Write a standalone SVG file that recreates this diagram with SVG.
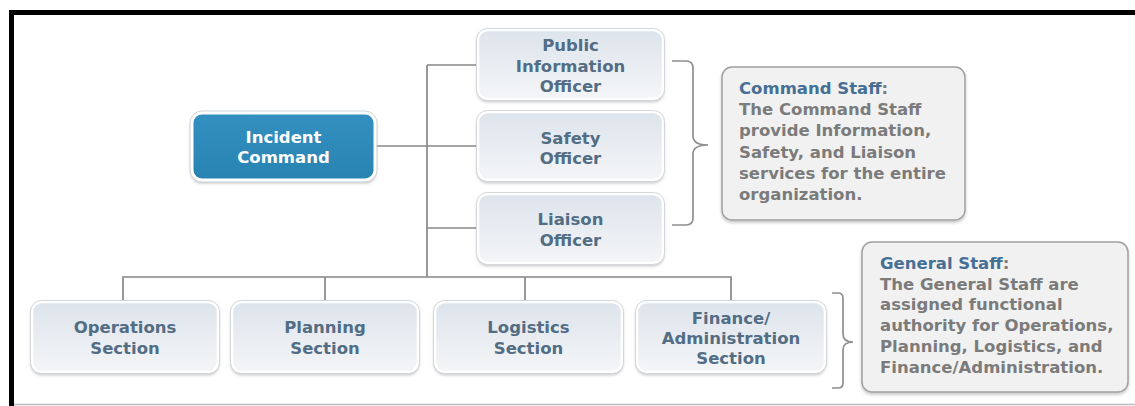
<svg xmlns="http://www.w3.org/2000/svg" width="1135" height="406" viewBox="0 0 1135 406">
<defs>
<linearGradient id="gNode" x1="0" y1="0" x2="0" y2="1">
<stop offset="0" stop-color="#dde4ec"/>
<stop offset="1" stop-color="#f4f5f7"/>
</linearGradient>
<linearGradient id="gIC" x1="0" y1="0" x2="0" y2="1">
<stop offset="0" stop-color="#3290c0"/>
<stop offset="1" stop-color="#2a83b2"/>
</linearGradient>
<filter id="sh" x="-10%" y="-10%" width="120%" height="130%">
<feDropShadow dx="0" dy="2" stdDeviation="1.5" flood-color="#000" flood-opacity="0.22"/>
</filter>
<style>
.node{fill:url(#gNode);stroke:#ffffff;stroke-width:2.5;filter:url(#sh)}
.nodeo{fill:none;stroke:#d3d6da;stroke-width:1}
.ic{fill:url(#gIC);stroke:#ffffff;stroke-width:3;filter:url(#sh)}
.ico{fill:none;stroke:#cfd6dc;stroke-width:1}
.note{fill:#f1f1f1;stroke:#a0a0a0;stroke-width:1.5;filter:url(#sh)}
.lbl{font-family:"DejaVu Sans",Verdana,sans-serif;font-weight:bold;font-size:16.5px;fill:#526d84;text-anchor:middle}
.icl{font-family:"DejaVu Sans",Verdana,sans-serif;font-weight:bold;font-size:16.5px;fill:#ffffff;text-anchor:middle}
.nt{font-family:"DejaVu Sans",Verdana,sans-serif;font-weight:bold;font-size:16.5px;fill:#7b7b7b}
.nh{fill:#456f94}
.conn{fill:none;stroke:#878787;stroke-width:1.7}
.brace{fill:none;stroke:#8f8f8f;stroke-width:1.7}
</style>
</defs>
<rect width="1135" height="406" fill="#ffffff"/>
<!-- frame -->
<line x1="9" y1="12.5" x2="1135" y2="12.5" stroke="#000" stroke-width="5"/>
<line x1="11.5" y1="10" x2="11.5" y2="406" stroke="#000" stroke-width="5"/>
<line x1="14" y1="404.5" x2="1135" y2="404.5" stroke="#bdbdbd" stroke-width="1.5"/>

<g id="connectors">
<path class="conn" d="M427 65 V277"/>
<path class="conn" d="M427 65 H478"/>
<path class="conn" d="M375 146 H478"/>
<path class="conn" d="M427 228 H478"/>
<path class="conn" d="M123 300 V277 H731 V300"/>
<path class="conn" d="M325 277 V300"/>
<path class="conn" d="M525 277 V300"/>
<path class="brace" d="M672 61 H686 Q693 61 693 68 V136 Q693 145 708 145 Q693 145 693 154 V218 Q693 225 686 225 H672"/>
<path class="brace" d="M832 293 H838 Q843 293 843 298 V334 Q843 342 853 342 Q843 342 843 350 V383 Q843 388 838 388 H832"/>
</g>

<g id="incident-command">
<rect class="ic" x="192" y="113" width="183" height="67" rx="10"/>
<rect class="ico" x="190" y="111" width="187" height="71" rx="12"/>
<text class="icl" x="283.5" y="143">Incident</text>
<text class="icl" x="283.5" y="163">Command</text>
</g>

<g id="public-information-officer">
<rect class="node" x="478" y="30" width="185" height="69" rx="10"/>
<rect class="nodeo" x="476.5" y="28.5" width="188" height="72" rx="11"/>
<text class="lbl" x="570.5" y="51">Public</text>
<text class="lbl" x="570.5" y="72">Information</text>
<text class="lbl" x="570.5" y="92">Officer</text>
</g>

<g id="safety-officer">
<rect class="node" x="478" y="112" width="185" height="68" rx="10"/>
<rect class="nodeo" x="476.5" y="110.5" width="188" height="71" rx="11"/>
<text class="lbl" x="570.5" y="144">Safety</text>
<text class="lbl" x="570.5" y="164">Officer</text>
</g>

<g id="liaison-officer">
<rect class="node" x="478" y="194" width="185" height="69" rx="10"/>
<rect class="nodeo" x="476.5" y="192.5" width="188" height="72" rx="11"/>
<text class="lbl" x="570.5" y="225">Liaison</text>
<text class="lbl" x="570.5" y="246">Officer</text>
</g>

<g id="operations-section">
<rect class="node" x="32" y="302" width="186" height="70" rx="10"/>
<rect class="nodeo" x="30.5" y="300.5" width="189" height="73" rx="11"/>
<text class="lbl" x="125" y="333">Operations</text>
<text class="lbl" x="125" y="354">Section</text>
</g>

<g id="planning-section">
<rect class="node" x="232" y="302" width="186" height="70" rx="10"/>
<rect class="nodeo" x="230.5" y="300.5" width="189" height="73" rx="11"/>
<text class="lbl" x="325" y="333">Planning</text>
<text class="lbl" x="325" y="354">Section</text>
</g>

<g id="logistics-section">
<rect class="node" x="435" y="302" width="187" height="70" rx="10"/>
<rect class="nodeo" x="433.5" y="300.5" width="190" height="73" rx="11"/>
<text class="lbl" x="528.5" y="333">Logistics</text>
<text class="lbl" x="528.5" y="354">Section</text>
</g>

<g id="finance-administration-section">
<rect class="node" x="637" y="302" width="188" height="70" rx="10"/>
<rect class="nodeo" x="635.5" y="300.5" width="191" height="73" rx="11"/>
<text class="lbl" x="731" y="324">Finance/</text>
<text class="lbl" x="731" y="344">Administration</text>
<text class="lbl" x="731" y="364">Section</text>
</g>

<g id="command-staff-note">
<rect class="note" x="722" y="67" width="243" height="153" rx="10"/>
<text class="nt" x="739" y="94"><tspan class="nh">Command Staff</tspan>:</text>
<text class="nt" x="739" y="115">The Command Staff</text>
<text class="nt" x="739" y="136">provide Information,</text>
<text class="nt" x="739" y="158">Safety, and Liaison</text>
<text class="nt" x="739" y="179">services for the entire</text>
<text class="nt" x="739" y="200">organization.</text>
</g>

<g id="general-staff-note">
<rect class="note" x="862" y="242" width="266" height="150" rx="10"/>
<text class="nt" x="880" y="269"><tspan class="nh">General Staff</tspan>:</text>
<text class="nt" x="880" y="290">The General Staff are</text>
<text class="nt" x="880" y="310">assigned functional</text>
<text class="nt" x="880" y="331">authority for Operations,</text>
<text class="nt" x="880" y="352">Planning, Logistics, and</text>
<text class="nt" x="880" y="373">Finance/Administration.</text>
</g>
</svg>
